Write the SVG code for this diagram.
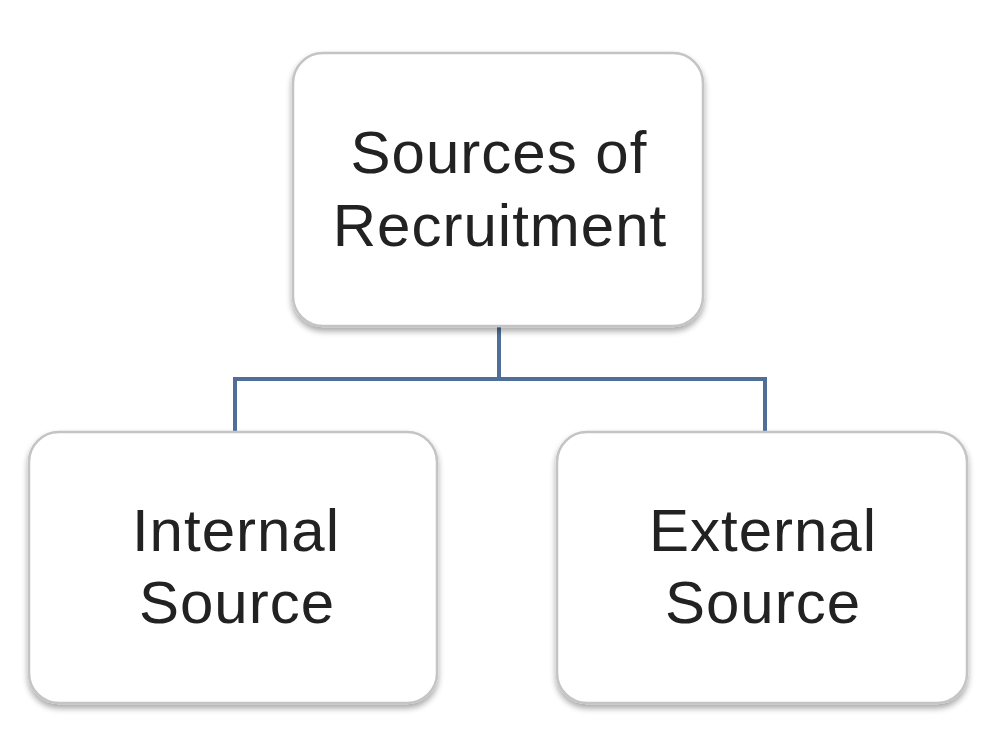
<svg xmlns="http://www.w3.org/2000/svg" width="1000" height="749" viewBox="0 0 1000 749">
<defs>
<filter id="sh" x="-10%" y="-10%" width="120%" height="125%">
<feGaussianBlur in="SourceAlpha" stdDeviation="3"/>
<feOffset dx="0" dy="4" result="b"/>
<feComponentTransfer><feFuncA type="linear" slope="0.35"/></feComponentTransfer>
<feMerge><feMergeNode/><feMergeNode in="SourceGraphic"/></feMerge>
</filter>
</defs>
<style>
.box{fill:#ffffff;stroke:#c4c4c4;stroke-width:2.5;filter:url(#sh)}
.lbl{font-family:"Liberation Sans","Open Sans",sans-serif;font-size:60px;letter-spacing:1px;fill:#222222;text-anchor:middle}
.con{fill:none;stroke:#4f6f99;stroke-width:4}
</style>
<rect width="1000" height="749" fill="#ffffff"/>
<g id="connectors">
<path class="con" d="M499 327 V379 M235 432 V379 H765 V432"/>
</g>
<g id="node-sources">
<rect class="box" x="293" y="53" width="410" height="273" rx="30"/>
<text class="lbl" x="499" y="173">Sources of</text>
<text class="lbl" x="500" y="246">Recruitment</text>
</g>
<g id="node-internal">
<rect class="box" x="29" y="432" width="408" height="271" rx="30"/>
<text class="lbl" x="236" y="551">Internal</text>
<text class="lbl" x="237" y="623">Source</text>
</g>
<g id="node-external">
<rect class="box" x="557" y="432" width="410" height="271" rx="30"/>
<text class="lbl" x="763" y="551">External</text>
<text class="lbl" x="763" y="623">Source</text>
</g>
</svg>
